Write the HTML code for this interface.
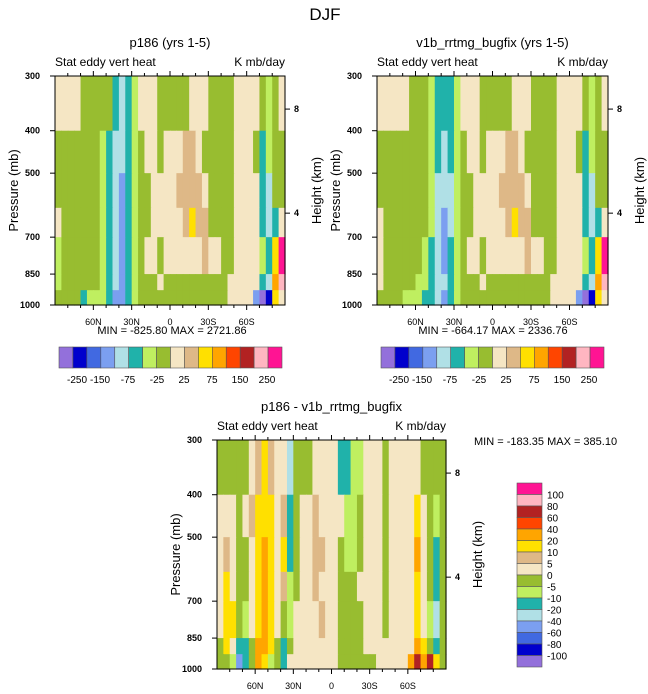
<!DOCTYPE html>
<html><head><meta charset="utf-8"><style>
html,body{margin:0;padding:0;background:#fff;}
svg{display:block;font-family:"Liberation Sans",sans-serif;}
</style></head><body>
<svg id="fig" width="648" height="694" viewBox="0 0 648 694">
<text x="325" y="20" font-size="17" text-anchor="middle">DJF</text>
</svg>
<script>
// ---- data ----
const pressureEdges = [300, 400, 500, 600, 700, 850, 925, 1000];
const pressureTicks = [300, 400, 500, 700, 850, 1000];
const latTickLabels = ["60N", "30N", "0", "30S", "60S"];
const latTicks = [60, 30, 0, -30, -60];
const heightTicks = ["8", "4"];
const heightTickP = [357, 617];
const colors = ["#9370DB","#0000CD","#4169E1","#7B9FF0","#B0E0E6","#20B2AA","#BFEF60","#98BD30","#F5E6C4","#DEB887","#FFE000","#FFA500","#FF4500","#B22222","#FFB6C1","#FF1493"];
const levelsAbs = [-250,-200,-150,-100,-75,-50,-25,0,25,50,75,100,150,200,250];
const levelsDiff = [-100,-80,-60,-40,-20,-10,-5,0,5,10,20,40,60,80,100];
const absTickLabels = ["-250","-150","-75","-25","25","75","150","250"];
const diffTickLabels = ["-100","-80","-60","-40","-20","-10","-5","0","5","10","20","40","60","80","100"];

const valuesP186 = [
[10,10,10,10,-10,-10,-10,-10,-10,-60,-90,-60,-35,10,10,10,-10,-10,-10,-10,-10,10,10,10,-10,-10,-10,-10,10,10,10,10,-10,-35,-10,10],
[-10,-10,-10,-10,-10,-10,-10,-35,-60,-90,-90,-60,-35,-10,10,10,-10,10,10,10,35,35,10,-10,-10,-10,-10,-10,10,10,10,-10,-60,-35,-10,-10],
[-10,-10,-10,-10,-10,-10,-10,-35,-60,-90,-120,-60,-35,-10,-10,10,10,10,10,35,35,35,35,10,-10,-10,-10,-10,10,10,10,10,-60,-90,-10,-10],
[10,-10,-10,-10,-10,-10,-10,-35,-60,-90,-120,-60,-35,-10,-10,10,10,10,10,10,35,60,35,35,-10,-10,-10,-10,10,10,10,10,-60,-90,-60,10],
[-35,-10,-10,-10,-10,-10,-10,-35,-60,-90,-120,-60,-35,-10,10,10,-10,10,10,10,10,10,10,35,10,10,-10,-10,10,10,10,10,-35,-60,60,300],
[-35,-10,-10,-10,-10,-10,-10,-35,-60,-90,-120,-60,-35,-10,-10,-10,10,-10,-10,-10,-10,-10,-10,-10,-10,-10,-10,10,10,10,10,10,-60,-90,90,220],
[-10,-10,-10,-10,-60,-35,-35,-35,-60,-120,-120,-60,-35,-10,-10,-10,-10,-10,-10,-10,-10,-10,-10,-10,-10,-10,-10,10,10,10,10,-120,-300,-220,60,10]
];
const valuesV1b = [
[10,10,10,10,10,-10,-10,-10,-35,-60,-60,-60,-35,10,10,10,-10,-10,-10,-10,-10,10,10,10,-10,-10,-10,-10,10,10,10,10,-10,-35,-10,10],
[-10,-10,-10,-10,-10,-10,-10,-10,-35,-60,-90,-60,-35,-10,10,10,-10,10,10,10,35,35,10,-10,-10,-10,-10,-10,10,10,10,-10,-60,-35,-10,-10],
[-10,-10,-10,-10,-10,-10,-10,-10,-35,-90,-90,-90,-35,-10,-10,10,10,10,10,35,35,35,35,10,-10,-10,-10,-10,10,10,10,10,-60,-90,-10,-10],
[10,-10,-10,-10,-10,-10,-10,-10,-35,-90,-120,-90,-35,-10,-10,10,10,10,10,10,35,60,35,35,-10,-10,-10,-10,10,10,10,10,-60,-90,-60,10],
[10,-10,-10,-10,-10,-10,-10,-35,-60,-90,-120,-60,-35,-10,10,10,-10,10,10,10,10,10,10,35,10,10,-10,-10,10,10,10,10,-35,-60,60,300],
[10,-10,-10,-10,-10,-10,-35,-35,-60,-90,-90,-60,-35,-10,-10,-10,10,-10,-10,-10,-10,-10,-10,-10,-10,-10,-10,10,10,10,10,10,-60,-90,90,220],
[-10,-10,-10,-10,-35,-35,-35,-60,-60,-90,-120,-60,-35,-10,-10,-10,-10,-10,-10,-10,-10,-10,-10,-10,-10,-10,-10,10,10,10,10,-120,-300,-220,60,10]
];
const valuesDiff = [
[-2,-2,-2,-2,-2,2,7,15,7,2,2,-30,-2,-2,-2,2,2,2,2,-15,-15,-7,-7,2,2,2,-2,2,2,2,2,2,-2,-2,-2,-2],
[2,2,2,-2,2,7,15,15,15,2,7,-15,-2,2,2,7,2,2,2,2,-7,-7,-2,2,2,2,-2,2,2,2,2,15,2,-2,-7,-2],
[2,7,2,-2,-2,2,15,30,15,2,15,-15,-2,2,2,7,7,2,2,-2,-7,-7,-2,2,2,2,-2,2,2,2,2,30,2,-2,-15,-2],
[2,15,2,-2,-2,2,15,30,15,2,7,-7,-2,2,2,7,2,2,2,-2,-2,-2,2,2,2,2,-2,2,2,2,2,15,2,-2,-15,-2],
[2,15,15,-2,-7,2,15,30,15,2,-2,-7,2,2,2,2,7,2,2,-2,-2,-2,-2,2,2,2,-2,2,2,2,2,15,2,-7,-30,-2],
[-2,15,2,-15,-15,-2,30,30,15,-2,-15,-2,2,2,2,2,2,2,2,-2,-2,-2,-2,2,2,2,2,2,2,2,2,30,15,-2,-15,-2],
[-2,-2,-7,-50,-15,-2,30,15,-7,-2,-15,2,2,2,2,2,2,2,2,-2,-2,-2,-2,-2,-2,2,2,2,2,2,30,70,30,70,15,-2]
];

// ---- drawing ----
const NS = "http://www.w3.org/2000/svg";
const svg = document.getElementById("fig");
function mk(tag, attrs, parent) {
  const e = document.createElementNS(NS, tag);
  for (const k in attrs) e.setAttribute(k, attrs[k]);
  (parent || svg).appendChild(e);
  return e;
}
function colorFor(v, levels) {
  let i = 0;
  while (i < levels.length && v >= levels[i]) i++;
  return colors[i];
}
function drawPanel(cfg) {
  const {x0, y0, w, h, values, levels, name} = cfg;
  const g = mk("g", {});
  
  
  const lnTop = Math.log(300), lnBot = Math.log(1000);
  const yS = p => y0 + h * (Math.log(p) - lnTop) / (lnBot - lnTop);
  const xS = lat => x0 + w * (90 - lat) / 180;
  const nCols = values[0].length;
  const dLat = 180 / nCols;
  for (let r = 0; r < values.length; r++) {
    const yt = yS(pressureEdges[r]), yb = yS(pressureEdges[r + 1]);
    for (let c = 0; c < nCols; c++) {
      const xl = xS(90 - c * dLat), xr = xS(90 - (c + 1) * dLat);
      const rect = mk("rect", {x: xl, y: yt, width: xr - xl + 0.6, height: yb - yt + 0.6, fill: colorFor(values[r][c], levels)}, g);
      
      
    }
  }
  const frame = mk("rect", {x: x0, y: y0, width: w, height: h, fill: "none", stroke: "#000", "stroke-width": 1}, g);
  
  
  // lat ticks
  for (let lat = 80; lat >= -80; lat -= 10) {
    const major = latTicks.includes(lat);
    const L = major ? 5 : 3;
    const x = xS(lat);
    mk("line", {x1: x, y1: y0, x2: x, y2: y0 - L, stroke: "#000"}, g);
    mk("line", {x1: x, y1: y0 + h, x2: x, y2: y0 + h + L, stroke: "#000"}, g);
  }
  latTicks.forEach((lat, i) => {
    const t = mk("text", {x: xS(lat), y: y0 + h + 20, "font-size": 9, "text-anchor": "middle"}, g);
    t.textContent = latTickLabels[i];
    
    
  });
  pressureTicks.forEach(p => {
    const y = yS(p);
    mk("line", {x1: x0, y1: y, x2: x0 - 5, y2: y, stroke: "#000"}, g);
    const t = mk("text", {x: x0 - 15, y: y + 3, "font-size": 9, "font-weight": "bold", "text-anchor": "end"}, g);
    t.textContent = p;
    
    
  });
  heightTicks.forEach((z, i) => {
    const y = yS(heightTickP[i]);
    mk("line", {x1: x0 + w, y1: y, x2: x0 + w + 5, y2: y, stroke: "#000"}, g);
    const t = mk("text", {x: x0 + w + 9, y: y + 3, "font-size": 9, "font-weight": "bold"}, g);
    t.textContent = z;
    
    
  });
  const yl = mk("text", {x: 0, y: 0, "font-size": 13, "text-anchor": "middle", transform: `translate(${x0 - 37},${y0 + h / 2}) rotate(-90)`}, g);
  yl.textContent = "Pressure (mb)";
  
  
  const hl = mk("text", {x: 0, y: 0, "font-size": 13, "text-anchor": "middle", transform: `translate(${x0 + w + 36},${y0 + h / 2}) rotate(-90)`}, g);
  hl.textContent = "Height (km)";
  
  
  const tt = mk("text", {x: x0 + w / 2, y: y0 - 29, "font-size": 13, "text-anchor": "middle"}, g);
  tt.textContent = cfg.title;
  
  
  const sl = mk("text", {x: x0, y: y0 - 10, "font-size": 12}, g);
  sl.textContent = "Stat eddy vert heat";
  
  
  const sr = mk("text", {x: x0 + w, y: y0 - 10, "font-size": 12, "text-anchor": "end"}, g);
  sr.textContent = "K mb/day";
  
  
  const mm = mk("text", {x: cfg.mmX, y: cfg.mmY, "font-size": 11, "text-anchor": cfg.mmAnchor}, g);
  mm.textContent = cfg.minmax;
  
  
}
function hColorbar(x0, y0, w, h, labelXs) {
  const g = mk("g", {});
  
  
  const bw = w / colors.length;
  colors.forEach((c, i) => {
    const r = mk("rect", {x: x0 + i * bw, y: y0, width: bw, height: h, fill: c, stroke: "#555", "stroke-width": 0.6}, g);
    
    
  });
  absTickLabels.forEach((s, i) => {
    const t = mk("text", {x: labelXs[i], y: y0 + h + 15, "font-size": 10, "text-anchor": "middle"}, g);
    t.textContent = s;
    
    
  });
}
function vColorbar(x0, y0, w, h) {
  const g = mk("g", {});
  
  
  const bh = h / colors.length;
  for (let i = 0; i < colors.length; i++) {
    const r = mk("rect", {x: x0, y: y0 + i * bh, width: w, height: bh, fill: colors[colors.length - 1 - i], stroke: "#555", "stroke-width": 0.6}, g);
    
    
  }
  for (let i = 0; i < diffTickLabels.length; i++) {
    const t = mk("text", {x: x0 + w + 5, y: y0 + (i + 1) * bh + 4, "font-size": 10}, g);
    t.textContent = diffTickLabels[diffTickLabels.length - 1 - i];
    
    
  }
}
drawPanel({x0: 55, y0: 76, w: 230, h: 229, values: valuesP186, levels: levelsAbs, name: "p186", title: "p186 (yrs 1-5)", minmax: "MIN = -825.80  MAX = 2721.86", mmX: 172, mmY: 334, mmAnchor: "middle"});
drawPanel({x0: 377, y0: 76, w: 231, h: 229, values: valuesV1b, levels: levelsAbs, name: "v1b", title: "v1b_rrtmg_bugfix (yrs 1-5)", minmax: "MIN = -664.17  MAX = 2336.76", mmX: 493, mmY: 334, mmAnchor: "middle"});
drawPanel({x0: 217, y0: 440, w: 229, h: 229, values: valuesDiff, levels: levelsDiff, name: "diff", title: "p186 - v1b_rrtmg_bugfix", minmax: "MIN = -183.35  MAX = 385.10", mmX: 474, mmY: 445, mmAnchor: "start"});
hColorbar(59, 347, 223, 21, [77, 100, 128, 157, 184, 212, 240, 267]);
hColorbar(381, 347, 223, 21, [399, 422, 450, 479, 506, 534, 562, 589]);
vColorbar(517, 483, 25, 184);
</script>
</body></html>
